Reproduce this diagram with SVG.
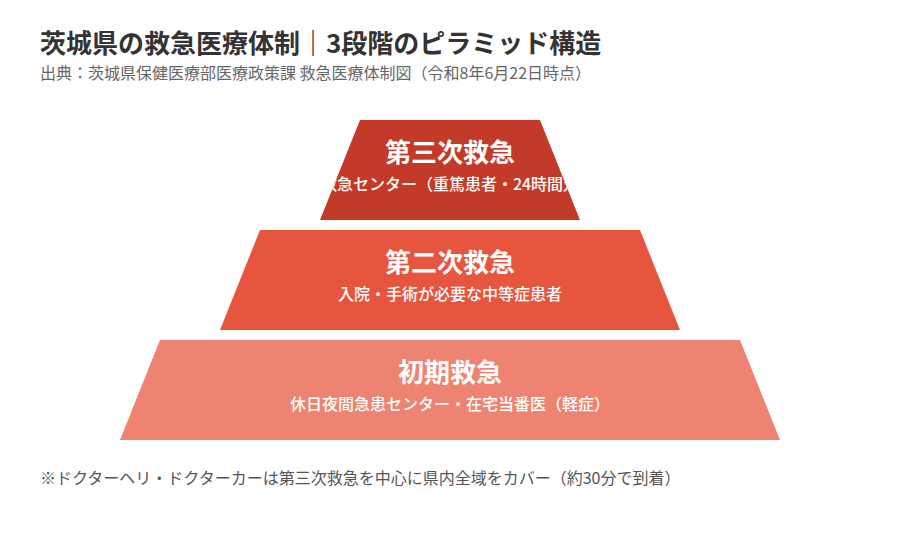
<svg xmlns="http://www.w3.org/2000/svg" width="900" height="550" viewBox="0 0 900 550">
<style>
text{font-family:"Noto Sans CJK JP","Noto Sans",sans-serif}
.title{font-size:26px;font-weight:700;fill:#333}
.src{font-size:16px;fill:#666}
.tier-h{font-size:26px;font-weight:700;fill:#fff;text-anchor:middle}
.tier-s{font-size:16px;font-weight:500;fill:#fff;text-anchor:middle}
.note{font-size:16px;fill:#555}
</style>
<defs>
<clipPath id="clip1"><polygon points="360,120 540,120 580,220 320,220"/></clipPath>
</defs>
<rect width="900" height="550" fill="#fff"/>
<text class="title" x="40" y="53">茨城県の救急医療体制｜3段階のピラミッド構造</text>
<text class="src" x="40" y="79">出典：茨城県保健医療部医療政策課 救急医療体制図（令和8年6月22日時点）</text>
<g id="tier3">
<polygon points="360,120 540,120 580,220 320,220" fill="#C43A28"/>
<g clip-path="url(#clip1)">
<text class="tier-h" x="450" y="162">第三次救急</text>
<text class="tier-s" x="450" y="190">救命救急センター（重篤患者・24時間対応）</text>
</g>
</g>
<g id="tier2">
<polygon points="260,230 640,230 680,330 220,330" fill="#E8553F"/>
<text class="tier-h" x="450" y="272">第二次救急</text>
<text class="tier-s" x="450" y="300">入院・手術が必要な中等症患者</text>
</g>
<g id="tier1">
<polygon points="160,340 740,340 780,440 120,440" fill="#EF8371"/>
<text class="tier-h" x="450" y="382">初期救急</text>
<text class="tier-s" x="450" y="410">休日夜間急患センター・在宅当番医（軽症）</text>
</g>
<g id="connectors"></g>
<text class="note" x="40" y="484">※ドクターヘリ・ドクターカーは第三次救急を中心に県内全域をカバー（約30分で到着）</text>
</svg>
